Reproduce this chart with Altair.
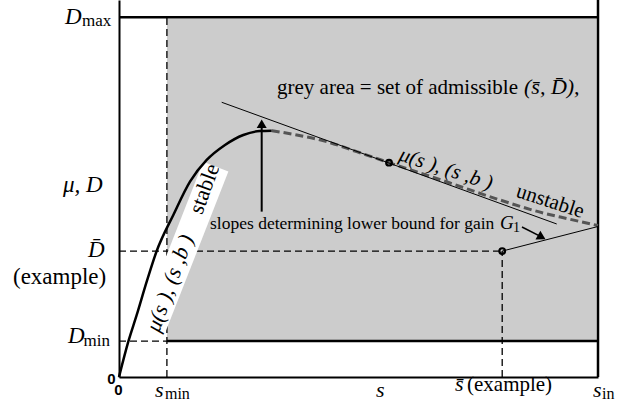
import altair as alt
import pandas as pd

# ---- values (normalised units: s_in = 1, D_max = 1) ----
S_MIN, S_BAR, S_IN = 0.10, 0.80, 1.0
D_MIN, D_BAR, D_MAX = 0.10, 0.35, 1.0
Y_TOP = 1.048

# mu(s): stable (rising) branch and unstable (falling) branch
stable_s = [0.0, 0.0194, 0.037, 0.0578, 0.0787, 0.1134, 0.1482, 0.1831, 0.2213, 0.2595, 0.2944, 0.3188]
stable_mu = [0.0, 0.0981, 0.1724, 0.2649, 0.3503, 0.4504, 0.543, 0.6033, 0.645, 0.6728, 0.6839, 0.6848]
unstable_s = [0.3188, 0.371, 0.4336, 0.4962, 0.5637, 0.691, 0.7954, 0.8852, 0.9346, 1.0]
unstable_mu = [0.6848, 0.6728, 0.6542, 0.6264, 0.5958, 0.5393, 0.4921, 0.456, 0.4406, 0.421]

# slope lines
tan1_s, tan1_D = [0.2144, 0.9138], [0.7637, 0.4254]
tan2_s, tan2_D = [0.80, 1.0], [0.35, 0.4184]

# marked points
pts_s, pts_D = [0.5637, 0.80], [0.5958, 0.35]

W, H = 479, 377
xs = alt.Scale(domain=[0, 1], nice=False, zero=False)
ys = alt.Scale(domain=[0, Y_TOP], nice=False, zero=False)


def X(f="s"):
    return alt.X(f"{f}:Q", scale=xs, title="")


def Y(f="D"):
    return alt.Y(f"{f}:Q", scale=ys, title="")


def seg_df(s, s2, D, D2):
    return pd.DataFrame({"s": s, "s2": s2, "D": D, "D2": D2})


def rules(df, **kw):
    return alt.Chart(df).mark_rule(**kw).encode(x=X(), x2="s2:Q", y=Y(), y2="D2:Q")


grey = alt.Chart(seg_df([S_MIN], [S_IN - 0.003], [D_MIN], [D_MAX - 0.004])).mark_rect(
    color="#cccccc").encode(x=X(), x2="s2:Q", y=Y(), y2="D2:Q")

dashed = rules(seg_df([S_MIN, 0, 0, S_BAR], [S_MIN, S_MIN, S_BAR, S_BAR],
                      [0, D_MIN, D_BAR, 0], [D_MAX, D_MIN, D_BAR, D_BAR]),
               color="black", strokeWidth=1.3, strokeDash=[7, 4])

# white background box of the rotated "stable" label
box = rules(seg_df([0.0658], [0.2021], [0.122], [0.5847]),
            color="white", strokeWidth=27, strokeCap="butt")

solid = rules(seg_df([0, S_MIN, S_IN], [S_IN, S_IN, S_IN], [D_MAX, D_MIN, 0],
                     [D_MAX, D_MIN, Y_TOP]), color="black", strokeWidth=2.5)

stable = alt.Chart(pd.DataFrame({"s": stable_s, "D": stable_mu, "i": range(len(stable_s))})).mark_line(
    color="black", strokeWidth=2.5, interpolate="monotone").encode(x=X(), y=Y(), order="i:Q")
unstable = alt.Chart(pd.DataFrame({"s": unstable_s, "D": unstable_mu, "i": range(len(unstable_s))})).mark_line(
    color="#555555", strokeWidth=3, strokeDash=[8, 4], interpolate="monotone").encode(
    x=X(), y=Y(), order="i:Q")

tangents = rules(seg_df([tan1_s[0], tan2_s[0]], [tan1_s[1], tan2_s[1]],
                        [tan1_D[0], tan2_D[0]], [tan1_D[1], tan2_D[1]]),
                 color="black", strokeWidth=1)

shaft1 = rules(seg_df([0.2979], [0.2979], [0.4597], [0.705]), color="black", strokeWidth=2)
shaft2 = rules(seg_df([0.8413], [0.8850], [0.4170], [0.3875]), color="black", strokeWidth=1.5)

head1 = alt.Chart(pd.DataFrame({"s": [0.2979], "D": [0.7039]})).mark_point(
    shape="triangle-up", filled=True, color="black", size=100, opacity=1).encode(x=X(), y=Y())
head2 = alt.Chart(pd.DataFrame({"s": [0.8825], "D": [0.3887]})).mark_point(
    shape="triangle-up", filled=True, color="black", size=100, opacity=1, angle=119).encode(x=X(), y=Y())

circles = alt.Chart(pd.DataFrame({"s": pts_s, "D": pts_D})).mark_point(
    shape="circle", filled=False, stroke="black", strokeWidth=2.2, size=32, opacity=1).encode(x=X(), y=Y())

SERIF = "Liberation Serif"


def texts(rows, **kw):
    df = pd.DataFrame(rows, columns=["t", "s", "D"])
    base = dict(font=SERIF, align="left", baseline="alphabetic", color="black")
    base.update(kw)
    return alt.Chart(df).mark_text(**base).encode(x=X(), y=Y(), text="t:N")


y_it = texts([["D", -0.1127, 0.9814], ["\u03bc, D", -0.1169, 0.5143],
              ["D\u0304", -0.0647, 0.3336], ["D", -0.1065, 0.0945]],
             fontSize=23, fontStyle="italic")
y_rm = texts([["(example)", -0.2213, 0.2585]], fontSize=23)
y_sub = texts([["max", -0.0772, 0.9758], ["min", -0.0741, 0.0862]], fontSize=17)
x_it = texts([["s", 0.0752, -0.0556], ["s", 0.5365, -0.0556],
              ["s\u0304", 0.7015, -0.0389], ["s", 0.9896, -0.0556]],
             fontSize=22, fontStyle="italic")
x_rm = texts([["(example)", 0.7265, -0.0389]], fontSize=21)
x_sub = texts([["min", 0.096, -0.0612], ["in", 1.0083, -0.0612]], fontSize=16)

annot1 = texts([["grey area = set of admissible", 0.3299, 0.7868]], fontSize=21)
annot1m = texts([["(s\u0304, D\u0304),", 0.8455, 0.7868]], fontSize=22, fontStyle="italic")
annot2 = texts([["slopes determining lower bound for gain", 0.19, 0.4115]], fontSize=17.5)
g1 = texts([["G", 0.7954, 0.4115]], fontSize=19, fontStyle="italic")
g1sub = texts([["1", 0.8225, 0.4031]], fontSize=14)
zeros = texts([["0", -0.0157, -0.0056], ["0", -0.001, -0.0348]],
              font="Liberation Sans", fontWeight="bold", fontSize=15, align="center", baseline="middle")

unst_it = texts([["\u03bc(s  ), (s  ,b  )", 0.5825, 0.6033]], fontSize=21, fontStyle="italic", angle=18)
unst_rm = texts([["unstable", 0.8267, 0.5018]], fontSize=21, angle=18)
stab_it = texts([["\u03bc(s  ), (s  ,b  )", 0.0835, 0.1215]], fontSize=22, fontStyle="italic", angle=290)
stab_rm = texts([["stable", 0.1733, 0.4496]], fontSize=22, angle=290)

chart = alt.layer(
    grey, dashed, box, solid, stable, unstable, tangents, shaft1, shaft2, head1, head2, circles,
    y_it, y_rm, y_sub, x_it, x_rm, x_sub, annot1, annot1m, annot2, g1, g1sub, zeros,
    unst_it, unst_rm, stab_it, stab_rm,
).properties(
    width=W, height=H,
    autosize=alt.AutoSizeParams(type="none"),
    padding={"left": 119, "top": 0, "right": 33, "bottom": 32},
    background="white",
).configure_axis(
    labels=False, ticks=False, grid=False, domainColor="black", domainWidth=2
).configure_view(strokeWidth=0)

chart.save("out.html", embed_options={"renderer": "svg", "actions": False})
